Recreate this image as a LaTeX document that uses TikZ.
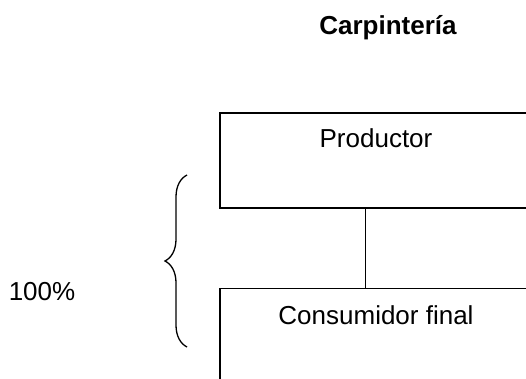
\documentclass[tikz,border=0pt]{standalone}
\usepackage{fontspec}
\setmainfont{Liberation Sans}
\usetikzlibrary{decorations.pathreplacing}

\begin{document}
\begin{tikzpicture}[x=1pt, y=-1pt,
    box/.style={draw, line width=1.5pt, inner sep=0pt, minimum width=312pt},
    txt/.style={anchor=base, inner sep=0pt, font=\fontsize{26}{31}\selectfont}]

    \useasboundingbox (0,0) rectangle (526,379);

    % title
    \node[txt, font=\fontsize{26}{31}\selectfont\bfseries] (title) at (388,35) {Carpintería};

    % these are the boxes
    \node[box, minimum height=95pt] (prod) at (376,160.5) {};
    \node[box, minimum height=131pt] (cons) at (376,354) {};
    \node[txt] (prodtxt) at ([yshift=-35pt]prod.north) {Productor};
    \node[txt] (constxt) at ([yshift=-36.5pt]cons.north) {Consumidor final};

    \draw[line width=1pt] ([xshift=-11pt]prod.south) -- ([xshift=-11pt]cons.north);

    % the brace and its share
    \coordinate (btop) at (187,175);
    \coordinate (bbot) at (187,347);
    \draw[line width=1.3pt, decorate, decoration={brace, amplitude=22pt}] (bbot) -- (btop);
    \node[txt] (share) at (42,300) {100\%};

\end{tikzpicture}
\end{document}
